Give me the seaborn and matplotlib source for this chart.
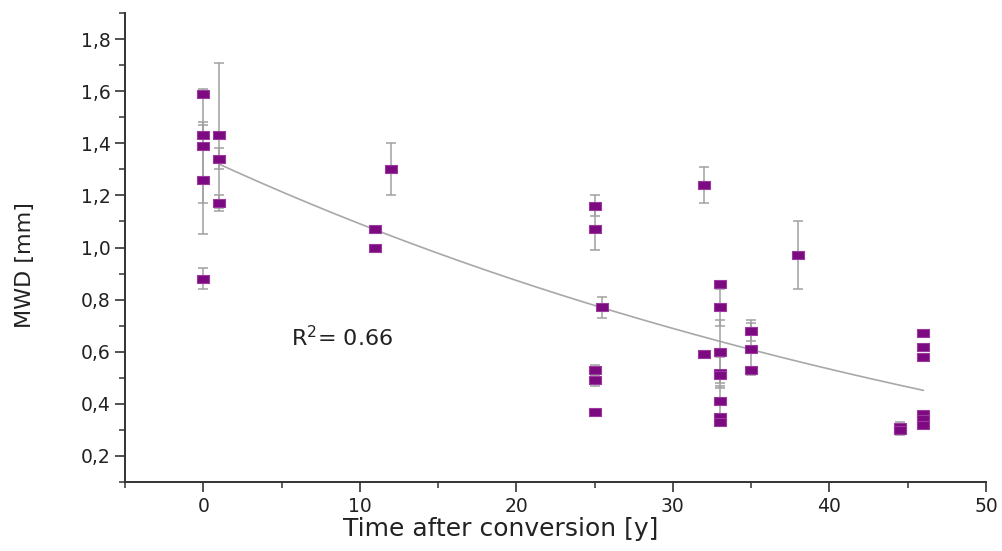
import numpy as np
import pandas as pd
import matplotlib
matplotlib.use("Agg")
import matplotlib.pyplot as plt
import seaborn as sns
from matplotlib.ticker import MultipleLocator, FixedLocator, FixedFormatter

# measured MWD values per time after conversion
time_years = [0, 0, 0, 0, 0, 1, 1, 1, 11, 11, 12,
              25, 25, 25, 25, 25, 25.5, 32, 32,
              33, 33, 33, 33, 33, 33, 33, 33, 35, 35, 35, 38,
              44.5, 44.5, 46, 46, 46, 46, 46, 46]
mwd = [1.59, 1.43, 1.39, 1.26, 0.88, 1.43, 1.34, 1.17, 1.07, 1.00, 1.30,
       1.16, 1.07, 0.53, 0.49, 0.37, 0.77, 1.24, 0.59,
       0.86, 0.77, 0.60, 0.52, 0.51, 0.41, 0.35, 0.33, 0.68, 0.61, 0.53, 0.97,
       0.31, 0.30, 0.67, 0.62, 0.58, 0.36, 0.34, 0.32]
mwd_err = [0, 0.05, 0.22, 0.21, 0.04, 0.28, 0.04, 0.03, 0, 0, 0.10,
           0.04, 0.08, 0.02, 0.02, 0, 0.04, 0.07, 0,
           0, 0.07, 0.12, 0.06, 0, 0.06, 0, 0, 0.04, 0.10, 0, 0.13,
           0.02, 0.02, 0, 0, 0, 0, 0, 0]

# exponential decay fit (y0 + A*exp(-x/t)), R^2 = 0.66
fit_y0, fit_amp, fit_tau = -0.326, 1.674, 60.0
fit_range = (1, 46)

y_ticks = [0.2, 0.4, 0.6, 0.8, 1.0, 1.2, 1.4, 1.6, 1.8]
y_tick_labels = ["0,2", "0,4", "0,6", "0,8", "1,0", "1,2", "1,4", "1,6", "1,8"]
x_ticks = [0, 10, 20, 30, 40, 50]

df = pd.DataFrame({"time": time_years, "mwd": mwd, "err": mwd_err})
fit_x = np.linspace(fit_range[0], fit_range[1], 200)
fit_df = pd.DataFrame({"time": fit_x,
                       "mwd": fit_y0 + fit_amp * np.exp(-fit_x / fit_tau)})

sns.set_theme(style="white")
plt.rcParams["font.family"] = ["DejaVu Sans"]
plt.rcParams["mathtext.default"] = "regular"
text_col = "#222222"

fig = plt.figure(figsize=(10.03, 5.51), dpi=100)
ax = fig.add_axes([0.1246, 0.1252, 0.8585, 0.8512])

err_df = df[df["err"] > 0]
ax.errorbar(err_df["time"], err_df["mwd"], yerr=err_df["err"], fmt="none",
            ecolor="#a0a0a0", elinewidth=1.1, capsize=3.5, capthick=1.1, zorder=2)

sns.lineplot(data=fit_df, x="time", y="mwd", ax=ax, color="#a8a8a8",
             linewidth=1.2, zorder=1)

rect = [(-1, -0.7), (1, -0.7), (1, 0.7), (-1, 0.7), (-1, -0.7)]
sns.scatterplot(data=df, x="time", y="mwd", ax=ax, marker=rect, s=75,
                color="#7c0a80", edgecolor="#9b3a9e", linewidth=0.8, zorder=3)

ax.set_xlim(-5, 50)
ax.set_ylim(0.1, 1.9)
ax.xaxis.set_major_locator(FixedLocator(x_ticks))
ax.xaxis.set_minor_locator(MultipleLocator(5))
ax.yaxis.set_major_locator(FixedLocator(y_ticks))
ax.yaxis.set_major_formatter(FixedFormatter(y_tick_labels))
ax.yaxis.set_minor_locator(MultipleLocator(0.1))

for side in ["top", "right"]:
    ax.spines[side].set_visible(False)
for side in ["left", "bottom"]:
    ax.spines[side].set_color("#333333")
    ax.spines[side].set_linewidth(1.4)

ax.tick_params(which="major", direction="out", length=7.5, width=1.2,
               colors="#333333", labelsize=13.5, labelcolor=text_col, pad=3,
               left=True, bottom=True)
ax.tick_params(which="minor", direction="out", length=4, width=1.1,
               colors="#333333", left=True, bottom=True)

ax.set_xlabel("Time after conversion [y]", fontsize=18, color=text_col)
ax.set_ylabel("MWD [mm]", fontsize=16, color=text_col)
ax.xaxis.set_label_coords(0.436, -0.074)
ax.yaxis.set_label_coords(-0.105, 0.463)

ax.text(5.6, 0.622, "R$^{2}$= 0.66", fontsize=16, color=text_col,
        ha="left", va="baseline")

plt.savefig("out.png", dpi=100)
